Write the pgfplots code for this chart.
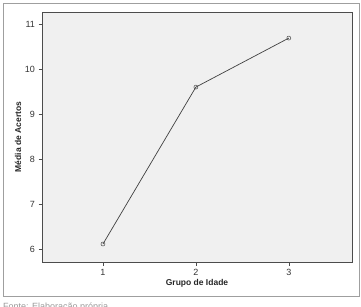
\documentclass[border=0pt]{standalone}
\usepackage{pgfplots}
\pgfplotsset{compat=1.18}
\usepackage{fontspec}
\setmainfont{Liberation Sans}
\begin{document}
\begin{tikzpicture}[x=1pt,y=1pt]
\useasboundingbox (0,0) rectangle (361,306);
\begin{scope}
\clip (0,0) rectangle (361,306);
\node[anchor=base west,inner sep=0pt,text=gray!80,font=\fontsize{9}{10}\selectfont] at (3,-3.5) {Fonte: Elaboração própria};
\end{scope}
\draw[gray!75,line width=0.8pt] (3,10) rectangle (359,303);
\begin{axis}[
  at={(42pt,44pt)}, anchor=south west,
  width=310pt, height=250pt, scale only axis,
  xmin=0.344, xmax=3.68, ymin=5.71, ymax=11.27,
  xtick={1,2,3}, ytick={6,7,8,9,10,11},
  tick align=outside, xtick pos=bottom, ytick pos=left,
  major tick length=3.5pt,
  tick style={black!70,line width=0.5pt},
  axis line style={black!70,line width=0.6pt},
  axis background/.style={fill=black!6},
  ticklabel style={font=\fontsize{9}{10}\selectfont, text=black!80},
  /pgf/number format/assume math mode=true,
  xlabel={\textbf{Grupo de Idade}}, ylabel={\textbf{Média de Acertos}},
  label style={font=\fontsize{8.5}{10}\selectfont, text=black!85},
  xlabel style={yshift=3pt},
  ylabel style={yshift=-3pt},
]
\addplot[black!75, line width=0.7pt, mark=o, mark size=2pt, mark options={black!70,line width=0.5pt}]
  coordinates {(1,6.11) (2,9.60) (3,10.69)};
\end{axis}
\end{tikzpicture}
\end{document}
